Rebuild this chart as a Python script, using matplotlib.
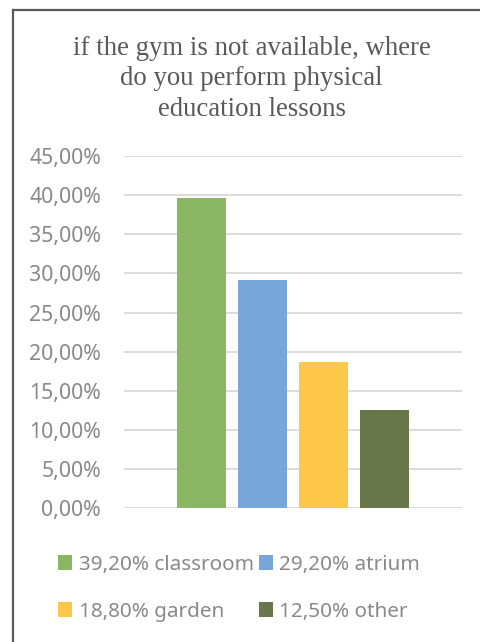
import matplotlib.pyplot as plt
from matplotlib.lines import Line2D
from matplotlib.patches import Patch
from matplotlib.ticker import FuncFormatter

# data
categories = ["39,20% classroom", "29,20% atrium", "18,80% garden", "12,50% other"]
values = [39.6, 29.2, 18.7, 12.5]
colors = ["#8BB764", "#78A6D8", "#FDC84A", "#69784B"]

title = "if the gym is not available, where\ndo you perform physical\neducation lessons"
grey = "#898989"

fig = plt.figure(figsize=(4.81, 6.42), dpi=100)
ax = fig.add_axes([0.2578, 0.2082, 0.7027, 0.549])

x = range(len(values))
ax.bar(x, values, width=0.8, color=colors, zorder=3)

ax.set_xlim(-1.27, 4.27)
ax.set_ylim(0, 45)
ax.set_yticks([i * 5 for i in range(10)])
ax.yaxis.set_major_formatter(FuncFormatter(lambda v, p: f"{v:.2f}%".replace(".", ",")))
ax.set_xticks([])
ax.grid(axis="y", color="#d9d9d9", linewidth=1.3, zorder=0)
for s in ax.spines.values():
    s.set_visible(False)
ax.tick_params(axis="y", length=0, pad=16.5, labelsize=15.3, labelcolor=grey)
for lab in ax.get_yticklabels():
    lab.set_fontfamily("Noto Sans")

fig.text(0.523, 0.877, title, ha="center", va="center", family="Liberation Serif",
         fontsize=19.3, color="#595959", linespacing=1.3)

# legend filled row by row, like the original
order = [0, 2, 1, 3]
handles = [Patch(facecolor=colors[i], edgecolor="none") for i in order]
labels = [categories[i] for i in order]
leg = fig.legend(handles, labels, loc="center", bbox_to_anchor=(0.497, 0.084),
                 ncol=2, frameon=False, handlelength=0.7, handleheight=0.7,
                 handletextpad=0.3, columnspacing=0.25, labelspacing=1.3,
                 prop={"family": "Noto Sans", "size": 14.9})
for t in leg.get_texts():
    t.set_color(grey)

# chart frame (left and top edges visible)
fig.add_artist(Line2D([0.026, 0.026], [0, 0.984], color="#595959", linewidth=1.6))
fig.add_artist(Line2D([0.026, 1.0], [0.984, 0.984], color="#595959", linewidth=1.6))

fig.savefig("out.png", dpi=100)
